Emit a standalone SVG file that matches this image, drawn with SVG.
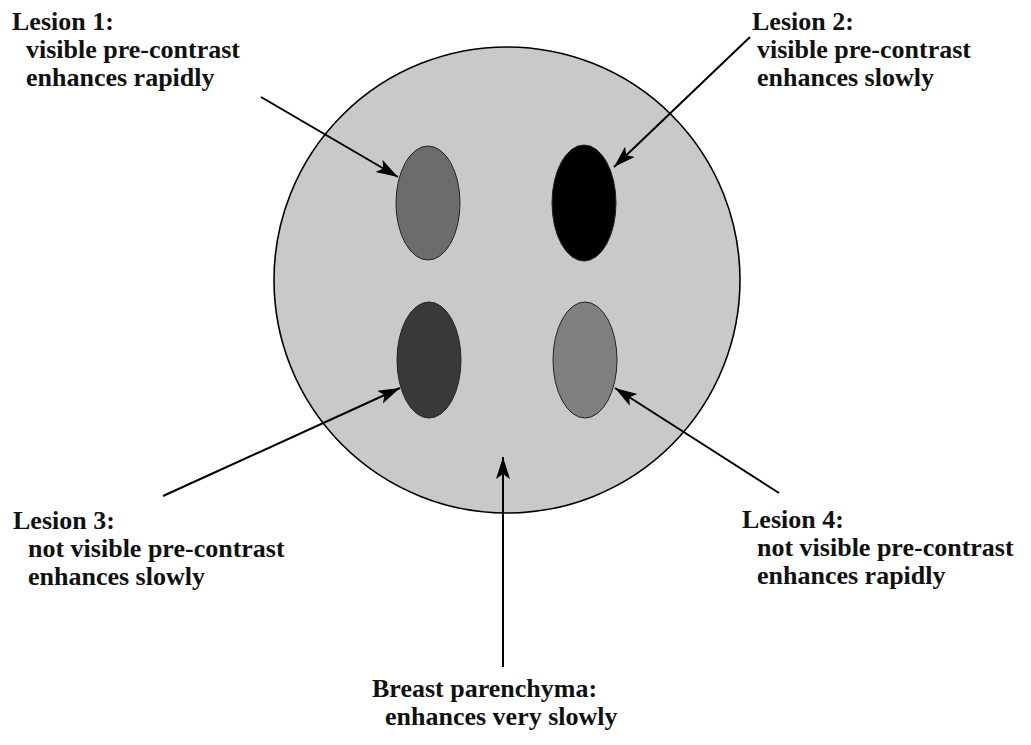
<svg xmlns="http://www.w3.org/2000/svg" width="1031" height="745" viewBox="0 0 1031 745">
<style>
text{font-family:"Liberation Serif","Times New Roman",serif;font-weight:bold;font-size:26px;fill:#111}
.conn{stroke:#000;stroke-width:2;fill:none;marker-end:url(#ah)}
.les{stroke:#222;stroke-width:1}
</style>
<defs>
<marker id="ah" markerUnits="userSpaceOnUse" markerWidth="24" markerHeight="16" refX="22" refY="7" orient="auto" viewBox="0 0 24 16">
<path d="M0,0 L22,7 L0,14 L5,7 Z" fill="#000"/>
</marker>
</defs>
<rect width="1031" height="745" fill="#fff"/>
<g id="parenchyma">
<circle cx="507" cy="280" r="233" fill="#c9c9c9" stroke="#000" stroke-width="1.6"/>
</g>
<g id="lesion1"><ellipse class="les" cx="428" cy="203" rx="32" ry="57" fill="#6c6c6c"/></g>
<g id="lesion2"><ellipse class="les" cx="584" cy="203" rx="32" ry="58" fill="#000"/></g>
<g id="lesion3"><ellipse class="les" cx="429" cy="360" rx="32" ry="58" fill="#3a3a3a"/></g>
<g id="lesion4"><ellipse class="les" cx="585" cy="360" rx="32" ry="58" fill="#808080"/></g>
<g id="connectors">
<line class="conn" x1="261" y1="97" x2="398" y2="177"/>
<line class="conn" x1="750" y1="37" x2="614" y2="167"/>
<line class="conn" x1="163" y1="496" x2="400" y2="388"/>
<line class="conn" x1="779" y1="493" x2="615" y2="388"/>
<line class="conn" x1="503" y1="667" x2="503" y2="457"/>
</g>
<g id="label1">
<text x="12" y="30">Lesion 1:</text>
<text x="26" y="58">visible pre-contrast</text>
<text x="26" y="86">enhances rapidly</text>
</g>
<g id="label2">
<text x="752" y="30">Lesion 2:</text>
<text x="757" y="58">visible pre-contrast</text>
<text x="757" y="86">enhances slowly</text>
</g>
<g id="label3">
<text x="13" y="529">Lesion 3:</text>
<text x="28" y="557">not visible pre-contrast</text>
<text x="28" y="585">enhances slowly</text>
</g>
<g id="label4">
<text x="742" y="528">Lesion 4:</text>
<text x="757" y="556">not visible pre-contrast</text>
<text x="757" y="584">enhances rapidly</text>
</g>
<g id="label5">
<text x="372" y="697">Breast parenchyma:</text>
<text x="385" y="725">enhances very slowly</text>
</g>
</svg>
